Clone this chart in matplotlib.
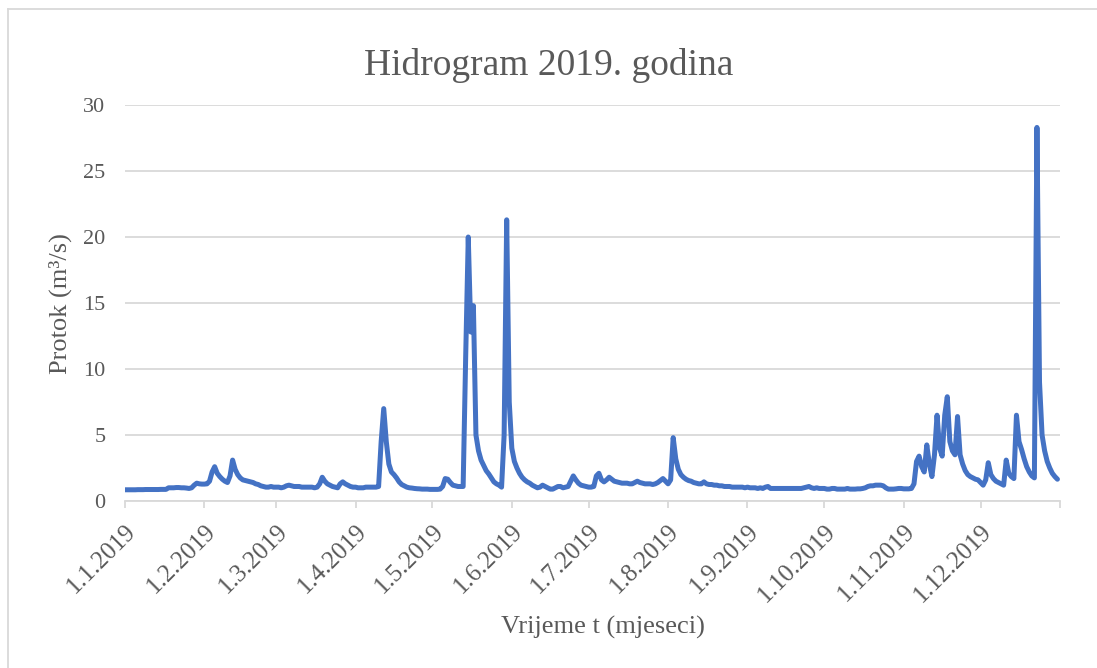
import matplotlib.pyplot as plt
import numpy as np
import pandas as pd
from matplotlib.lines import Line2D

# Dnevni protok (m3/s) za 2019., ocitano sa grafa
flow = [
    .85, .85, .85, .85, .85, .86, .86, .86, .87, .87, .87, .87, .87, .87, .88, .88, .88, 1.0, 1.0, 1.0, 1.02, 1.02, 1.0, 1.0,
    .98, .95, 1.0, 1.2, 1.35, 1.3, 1.28, 1.28, 1.3, 1.5, 2.2, 2.6, 2.1, 1.85, 1.65, 1.5, 1.4, 1.9, 3.1, 2.4, 2.0, 1.75, 1.6, 1.55, 1.5,
    1.45, 1.4, 1.3, 1.25, 1.15, 1.1, 1.05, 1.05, 1.1, 1.05, 1.05, 1.05, 1.0, 1.05, 1.15, 1.2, 1.15, 1.1, 1.1, 1.1, 1.05, 1.05, 1.05, 1.05,
    1.05, 1.0, 1.05, 1.3, 1.8, 1.5, 1.3, 1.2, 1.1, 1.05, 1.0, 1.3, 1.45, 1.3, 1.2, 1.1, 1.05, 1.05, 1.0, 1.0, 1.0, 1.05, 1.05, 1.05, 1.05,
    1.05, 1.1, 4.5, 7.0, 4.5, 2.8, 2.2, 2.0, 1.75, 1.45, 1.25, 1.15, 1.05, 1.0, .98, .95, .93, .92, .9, .9, .9, .88, .88, .88,
    .88, .9, 1.1, 1.7, 1.65, 1.4, 1.2, 1.15, 1.1, 1.1, 1.1, 11.0, 20.0, 12.8, 14.8, 5.0, 3.8, 3.1, 2.7, 2.3, 2.05, 1.75, 1.45, 1.3, 1.2,
    1.05, 5.0, 21.3, 7.5, 4.0, 3.0, 2.5, 2.1, 1.8, 1.6, 1.45, 1.35, 1.2, 1.1, 1.0, 1.05, 1.2, 1.1, 1.0, .9, .9, 1.0, 1.1, 1.1,
    1.0, 1.05, 1.1, 1.5, 1.9, 1.6, 1.35, 1.2, 1.15, 1.1, 1.05, 1.05, 1.1, 1.9, 2.1, 1.6, 1.45, 1.6, 1.8, 1.65, 1.5, 1.45, 1.4, 1.35,
    1.35, 1.35, 1.3, 1.3, 1.4, 1.5, 1.4, 1.35, 1.3, 1.3, 1.3, 1.25, 1.3, 1.4, 1.55, 1.7, 1.5, 1.3, 1.6, 4.8, 3.2, 2.4, 2.0, 1.8, 1.65,
    1.55, 1.5, 1.4, 1.35, 1.3, 1.3, 1.45, 1.3, 1.25, 1.25, 1.2, 1.2, 1.15, 1.15, 1.1, 1.1, 1.1, 1.05, 1.05, 1.05, 1.05, 1.05, 1.0, 1.05,
    1.0, 1.0, 1.0, .95, 1.0, .95, 1.05, 1.1, .95, .95, .95, .95, .95, .95, .95, .95, .95, .95, .95, .95, .95, 1.0, 1.05, 1.1, 1.0,
    .95, 1.0, .95, .95, .95, .9, .9, .95, .95, .9, .9, .9, .9, .95, .9, .9, .9, .92, .92, .95, 1.0, 1.1, 1.15, 1.15,
    1.2, 1.2, 1.2, 1.15, 1.0, .9, .9, .9, .92, .95, .95, .92, .92, .92, .95, 1.3, 3.0, 3.4, 2.6, 2.2, 4.25, 2.8, 1.85, 3.5,
    6.5, 4.0, 3.4, 6.5, 7.9, 4.5, 3.8, 3.5, 6.4, 3.5, 2.8, 2.3, 2.0, 1.85, 1.75, 1.65, 1.6, 1.4, 1.2, 1.6, 2.9, 2.0, 1.7, 1.5, 1.4,
    1.3, 1.2, 3.1, 2.1, 1.85, 1.7, 6.5, 4.5, 3.9, 3.2, 2.6, 2.2, 1.9, 1.75, 28.3, 9.0, 5.0, 3.8, 3.0, 2.5, 2.1, 1.85, 1.65,
]
days = pd.date_range('2019-01-01', periods=len(flow), freq='D')

# oznake mjeseci (zadnja, 1.1.2020, bez teksta)
month_ticks = pd.date_range('2019-01-01', '2020-01-01', freq='MS')
month_labels = ['1.1.2019', '1.2.2019', '1.3.2019', '1.4.2019', '1.5.2019', '1.6.2019',
                '1.7.2019', '1.8.2019', '1.9.2019', '1.10.2019', '1.11.2019', '1.12.2019', '']

y_ticks = [0, 5, 10, 15, 20, 25, 30]

grey = '#595959'
light = '#D9D9D9'
plt.rcParams['font.family'] = ['Liberation Serif', 'DejaVu Serif']

W, H = 1097, 668
fig = plt.figure(figsize=(W/100, H/100), dpi=100)
ax = fig.add_axes([125/W, 1 - 501/H, (1060 - 125)/W, (501 - 105)/H])

# okvir grafa (vidi se samo gornji i lijevi rub)
fig.lines.append(Line2D([8/W, 1], [1 - 9/H, 1 - 9/H], transform=fig.transFigure,
                        color=light, linewidth=1.3))
fig.lines.append(Line2D([8/W, 8/W], [0, 1 - 9/H], transform=fig.transFigure,
                        color=light, linewidth=1.3))

ax.plot(days, flow, color='#4472C4', linewidth=3.6, solid_joinstyle='round',
        solid_capstyle='round', zorder=3)

ax.set_xlim(pd.Timestamp('2019-01-01'), pd.Timestamp('2020-01-01'))
ax.set_ylim(0, 30)
ax.set_yticks(y_ticks)
ax.yaxis.grid(True, color=light, linewidth=1.3)
ax.set_axisbelow(True)

ax.set_xticks(month_ticks)
ax.set_xticklabels(month_labels, rotation=45, ha='right', va='top',
                   rotation_mode='anchor')

for s in ['top', 'right', 'left']:
    ax.spines[s].set_visible(False)
ax.spines['bottom'].set_color(light)
ax.spines['bottom'].set_linewidth(1.3)

ax.tick_params(axis='x', colors=light, labelcolor=grey, labelsize=18,
               length=5, width=1.3, pad=9)
ax.tick_params(axis='y', length=0, labelcolor=grey, labelsize=16, pad=14)

fig.text(0.5, 1 - 75/H, 'Hidrogram 2019. godina', fontsize=27, color=grey,
         ha='center', va='baseline')
fig.text(603/W, 1 - 627/H, 'Vrijeme t (mjeseci)', fontsize=19, color=grey,
         ha='center', va='center')
fig.text(60/W, 1 - 304/H, 'Protok (m³/s)', fontsize=19, color=grey,
         ha='center', va='center', rotation=90)

fig.savefig('out.png', dpi=100)
